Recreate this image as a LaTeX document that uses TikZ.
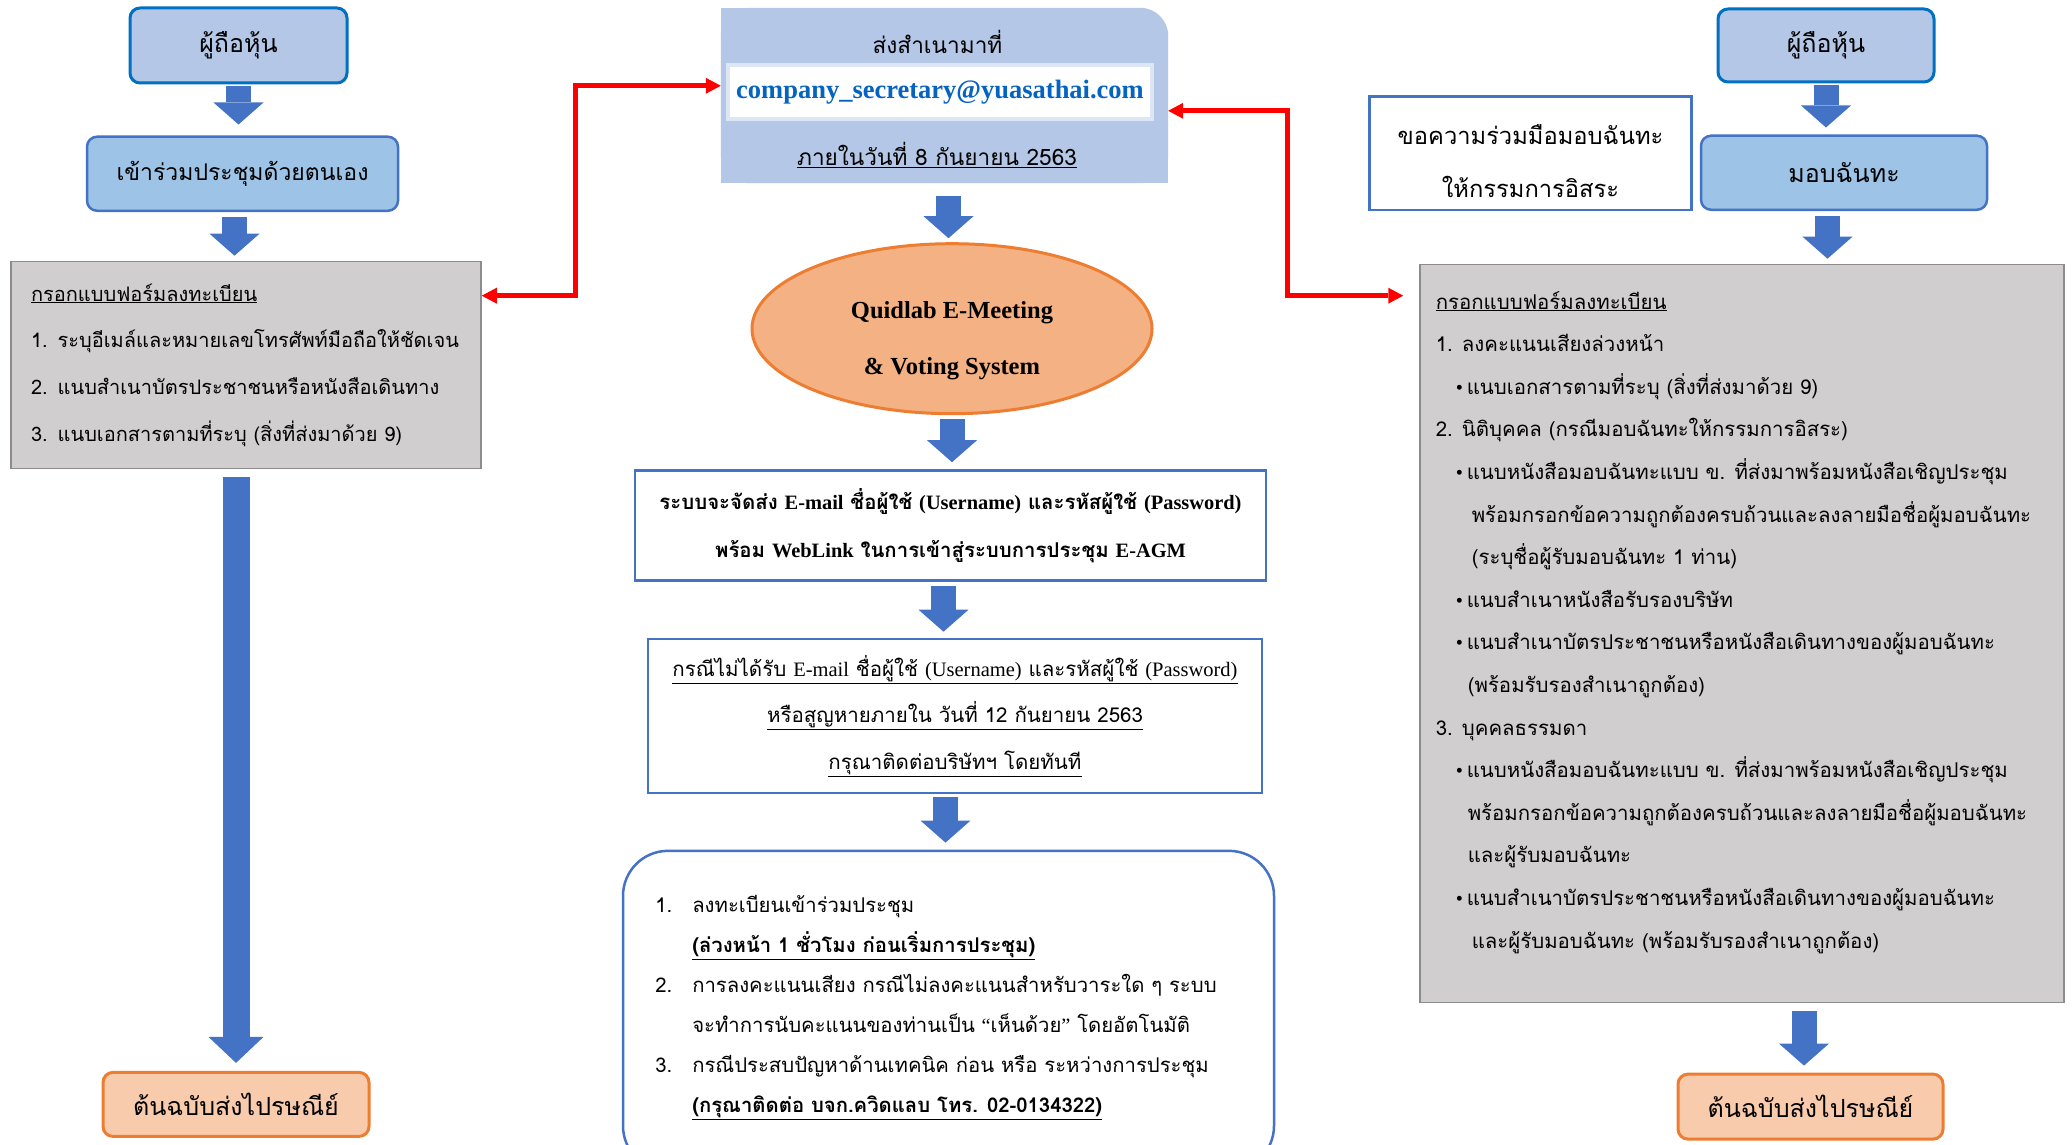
\documentclass[tikz,border=0pt]{standalone}
\usepackage{fontspec}
\setmainfont{Liberation Serif}
\newfontfamily\thai[Script=Thai]{Loma}
\usepackage{tikz}
\usetikzlibrary{calc,positioning,arrows.meta,shapes,backgrounds}

\definecolor{copyblue}{HTML}{B4C7E7}
\definecolor{selfblue}{HTML}{9DC3E6}
\definecolor{holderedge}{HTML}{0070C0}
\definecolor{boxedge}{HTML}{4472C4}
\definecolor{formgray}{HTML}{D0CECE}
\definecolor{formedge}{HTML}{8C8C8C}
\definecolor{postfill}{HTML}{F8CBAD}
\definecolor{emeetfill}{HTML}{F4B183}
\definecolor{orangeedge}{HTML}{ED7D31}
\definecolor{mailblue}{HTML}{0563C1}

\newcommand\eng[1]{{\rmfamily #1}}
\newcommand\dotmark{\makebox[11pt][l]{\rmfamily\textbullet}}

\tikzset{
    holderbox/.style={draw=holderedge, line width=3pt, fill=copyblue, rounded corners=10pt, font=\thai\fontsize{25}{30}\selectfont},
    selfbox/.style={draw=boxedge, line width=2.5pt, fill=selfblue, rounded corners=10pt, font=\thai\fontsize{25}{30}\selectfont},
    formbox/.style={draw=formedge, line width=1.5pt, fill=formgray},
    plainbox/.style={draw=boxedge, line width=2.5pt, fill=white},
    postbox/.style={draw=orangeedge, line width=3pt, fill=postfill, rounded corners=10pt, font=\thai\fontsize{25}{30}\selectfont},
    blockarrow/.style={draw=boxedge, line width=25pt, -{Triangle[length=22pt, width=50pt, line width=0pt]}},
    longarrow/.style={draw=boxedge, line width=27pt, -{Triangle[length=26pt, width=55pt, line width=0pt]}},
    redlink/.style={draw=red, line width=5pt, {Triangle[length=15pt, width=16pt, line width=0pt]}-{Triangle[length=15pt, width=16pt, line width=0pt]}},
}

\begin{document}
\begin{tikzpicture}[x=1pt, y=-1pt]
    \useasboundingbox (0,0) rectangle (2072,1145);

    % left column: attend in person
    \node [holderbox, minimum width=217pt, minimum height=75pt] (holderL) at (238.5,45.5) {ผู้ถือหุ้น};
    \node [selfbox, below=51pt of holderL, xshift=4pt, minimum width=311pt, minimum height=74pt, font=\thai\fontsize{23}{30}\selectfont] (selfL) {เข้าร่วมประชุมด้วยตนเอง};
    \node [formbox, below=48.7pt of selfL, xshift=3.5pt, minimum width=470pt, minimum height=207pt, text width=430pt, align=left, font=\thai\fontsize{20}{46.7}\selectfont] (formL) {\underline{กรอกแบบฟอร์มลงทะเบียน}\\1. ระบุอีเมล์และหมายเลขโทรศัพท์มือถือให้ชัดเจน\\2. แนบสำเนาบัตรประชาชนหรือหนังสือเดินทาง\\3. แนบเอกสารตามที่ระบุ (สิ่งที่ส่งมาด้วย 9)};
    \node [postbox, below=601.7pt of formL, xshift=-10pt, minimum width=266pt, minimum height=64pt] (postL) {ต้นฉบับส่งไปรษณีย์};

    \draw[blockarrow, shorten <=2pt, shorten >=11pt] (holderL.south) -- (holderL.south |- selfL.north);
    \draw[blockarrow, shorten <=5pt, shorten >=5pt] ([xshift=-8pt]selfL.south) -- ([xshift=-8pt]selfL.south |- formL.north);
    \draw[longarrow, shorten <=8pt, shorten >=8pt] (postL.north |- formL.south) -- (postL.north);

    % centre column: e-meeting
    \node [minimum width=447pt, minimum height=175pt, inner sep=0pt] (copybox) at (944.5,95.5) {};
    \node [font=\thai\fontsize{22.6}{25}\selectfont] (copytitle) at ($(copybox.north)+(-7,34)$) {ส่งสำเนามาที่};
    \node [fill=white, draw=white!55!copyblue, line width=4pt, minimum width=424pt, minimum height=54pt, text=mailblue, font=\bfseries\fontsize{26.5}{30}\selectfont] (email) at ($(copybox.north)+(-4.5,84)$) {company\_secretary@yuasathai.com};
    \node [font=\thai\fontsize{22.6}{25}\selectfont] (copydate) at ($(copybox.north)+(-7.5,147)$) {\underline{ภายในวันที่ 8 กันยายน 2563}};

    \node [ellipse, draw=orangeedge, line width=3pt, fill=emeetfill, below=59pt of copybox, xshift=7.5pt, minimum width=400pt, minimum height=170pt] (emeet) {};
    \node [align=center, font=\bfseries\fontsize{24.5}{56}\selectfont] (emeettext) at ($(emeet.center)+(0,12)$) {Quidlab E-Meeting\\\& Voting System};

    \node [plainbox, below=54pt of emeet, xshift=-1.5pt, minimum width=631pt, minimum height=110pt, align=center, font=\thai\bfseries\fontsize{20.4}{48}\selectfont] (mailbox) {ระบบจะจัดส่ง \eng{E-mail} ชื่อผู้ใช้ \eng{(Username)} และรหัสผู้ใช้ \eng{(Password)}\\พร้อม \eng{WebLink} ในการเข้าสู่ระบบการประชุม \eng{E-AGM}};

    \node [plainbox, below=56pt of mailbox, xshift=4.5pt, minimum width=614pt, minimum height=154pt, align=center, font=\thai\fontsize{20.5}{46.5}\selectfont] (lostbox) {\underline{กรณีไม่ได้รับ \eng{E-mail} ชื่อผู้ใช้ \eng{(Username)} และรหัสผู้ใช้ \eng{(Password)}}\\\underline{หรือสูญหายภายใน วันที่ 12 กันยายน 2563}\\\underline{กรุณาติดต่อบริษัทฯ โดยทันที}};

    \node [plainbox, rounded corners=45pt, below=55.4pt of lostbox, xshift=-6.5pt, minimum width=651pt, minimum height=320pt] (notebox) {};
    \node [anchor=north west, align=left, font=\thai\fontsize{20.3}{40}\selectfont] (notetext) at ($(notebox.north west)+(30,42)$) {\makebox[37pt][l]{1.}ลงทะเบียนเข้าร่วมประชุม\\\hspace*{37pt}\textbf{\underline{(ล่วงหน้า 1 ชั่วโมง ก่อนเริ่มการประชุม)}}\\\makebox[37pt][l]{2.}การลงคะแนนเสียง กรณีไม่ลงคะแนนสำหรับวาระใด ๆ ระบบ\\\hspace*{37pt}จะทำการนับคะแนนของท่านเป็น \eng{“}เห็นด้วย\eng{”} โดยอัตโนมัติ\\\makebox[37pt][l]{3.}กรณีประสบปัญหาด้านเทคนิค ก่อน หรือ ระหว่างการประชุม\\\hspace*{37pt}\textbf{\underline{(กรุณาติดต่อ บจก.ควิดแลบ โทร. 02-0134322)}}};

    \draw[blockarrow, shorten <=13pt, shorten >=4pt] ([xshift=4pt]copybox.south) -- ([xshift=4pt]copybox.south |- emeet.north);
    \draw[blockarrow, shorten <=4pt, shorten >=7pt] (emeet.south) -- (emeet.south |- mailbox.north);
    \draw[blockarrow, shorten <=4pt, shorten >=6pt] ([xshift=-7pt]mailbox.south) -- ([xshift=-7pt]mailbox.south |- lostbox.north);
    \draw[blockarrow, shorten <=3pt, shorten >=7pt] ([xshift=-9.5pt]lostbox.south) -- ([xshift=-9.5pt]lostbox.south |- notebox.north);

    % right column: proxy
    \node [holderbox, minimum width=216pt, minimum height=73pt] (holderR) at (1826,45.5) {ผู้ถือหุ้น};
    \node [selfbox, below=51pt of holderR, xshift=18pt, minimum width=286pt, minimum height=74pt] (proxyR) {มอบฉันทะ};
    \node [plainbox, left=7pt of proxyR, yshift=19.5pt, minimum width=322pt, minimum height=113pt] (askbox) {};
    \node [align=center, font=\thai\fontsize{23.7}{53}\selectfont] (asktext) at ($(askbox.center)+(0,8)$) {ขอความร่วมมือมอบฉันทะ\\ให้กรรมการอิสระ};
    \node [formbox, below=52.7pt of proxyR, xshift=-102pt, minimum width=644pt, minimum height=738pt] (formR) {};
    \node [anchor=north west, align=left, font=\thai\fontsize{20.4}{42.6}\selectfont] (formRtext) at ($(formR.north west)+(13,24)$) {\underline{กรอกแบบฟอร์มลงทะเบียน}\\
        1. ลงคะแนนเสียงล่วงหน้า\\
        \hspace*{20pt}\dotmark แนบเอกสารตามที่ระบุ (สิ่งที่ส่งมาด้วย 9)\\
        2. นิติบุคคล (กรณีมอบฉันทะให้กรรมการอิสระ)\\
        \hspace*{20pt}\dotmark แนบหนังสือมอบฉันทะแบบ ข. ที่ส่งมาพร้อมหนังสือเชิญประชุม\\
        \hspace*{36pt}พร้อมกรอกข้อความถูกต้องครบถ้วนและลงลายมือชื่อผู้มอบฉันทะ\\
        \hspace*{36pt}(ระบุชื่อผู้รับมอบฉันทะ 1 ท่าน)\\
        \hspace*{20pt}\dotmark แนบสำเนาหนังสือรับรองบริษัท\\
        \hspace*{20pt}\dotmark แนบสำเนาบัตรประชาชนหรือหนังสือเดินทางของผู้มอบฉันทะ\\
        \hspace*{32pt}(พร้อมรับรองสำเนาถูกต้อง)\\
        3. บุคคลธรรมดา\\
        \hspace*{20pt}\dotmark แนบหนังสือมอบฉันทะแบบ ข. ที่ส่งมาพร้อมหนังสือเชิญประชุม\\
        \hspace*{32pt}พร้อมกรอกข้อความถูกต้องครบถ้วนและลงลายมือชื่อผู้มอบฉันทะ\\
        \hspace*{32pt}และผู้รับมอบฉันทะ\\
        \hspace*{20pt}\dotmark แนบสำเนาบัตรประชาชนหรือหนังสือเดินทางของผู้มอบฉันทะ\\
        \hspace*{36pt}และผู้รับมอบฉันทะ (พร้อมรับรองสำเนาถูกต้อง)};
    \node [postbox, below=69.4pt of formR, xshift=68.5pt, minimum width=265pt, minimum height=65pt] (postR) {ต้นฉบับส่งไปรษณีย์};

    \draw[blockarrow, shorten <=2pt, shorten >=7pt] (holderR.south) -- (holderR.south |- proxyR.north);
    \draw[blockarrow, shorten <=5pt, shorten >=5pt] ([xshift=-16.5pt]proxyR.south) -- ([xshift=-16.5pt]proxyR.south |- formR.north);
    \draw[blockarrow, shorten <=8pt, shorten >=7pt] ([xshift=-6.5pt]postR.north |- formR.south) -- ([xshift=-6.5pt]postR.north);

    % red links to the copy address
    \draw[redlink] ($(formL.north east)+(0,35)$) -- ++(94,0) |- ($(copybox.north west)+(0,78)$);
    \draw[redlink] ($(copybox.north east)+(0,103)$) -- ++(119,0) |- ($(formR.north west)+(-16,32)$);

    \begin{scope}[on background layer]
        \fill[white] (0,0) rectangle (2072,1145);
        \fill[copyblue, rounded corners=28pt] (copybox.south west) rectangle (copybox.north east);
        \fill[copyblue] (copybox.south west) rectangle (copybox.north);
        \fill[copyblue] (copybox.center) rectangle (copybox.south east);
    \end{scope}
\end{tikzpicture}
\end{document}
